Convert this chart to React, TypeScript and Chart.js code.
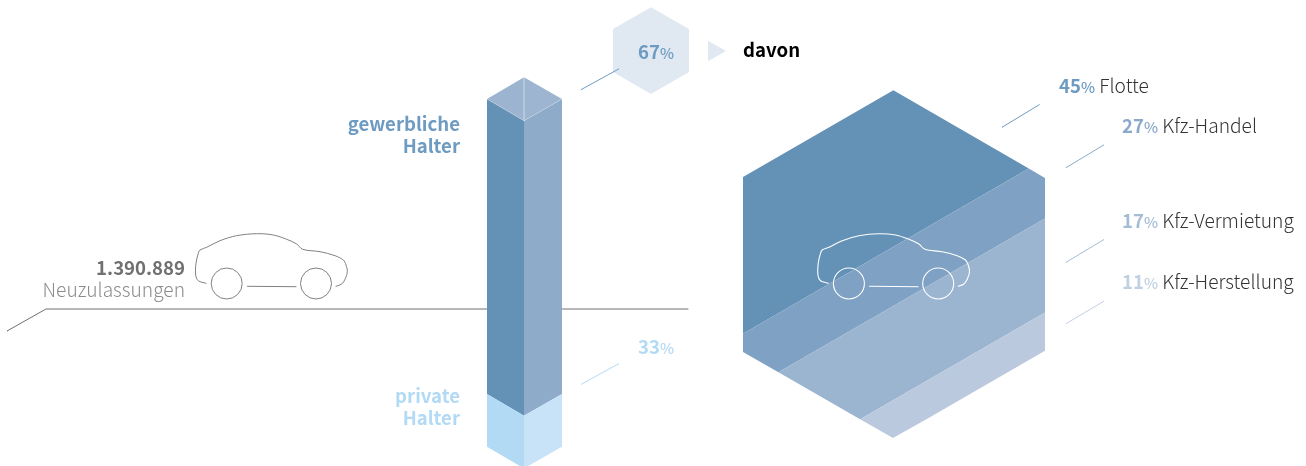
import React, { useEffect, useRef } from "react";
import { Chart, registerables } from "chart.js";

Chart.register(...registerables);

// ---- values ----
const totalRegistrations = "1.390.889";
const holderCategories = ["gewerbliche Halter", "private Halter"];
const holderShares = [67, 33];
const fleetCategories = ["Flotte", "Kfz-Handel", "Kfz-Vermietung", "Kfz-Herstellung"];
const fleetShares = [45, 27, 17, 11];
// the stripes of the big hexagon as drawn in the source (2nd and 3rd widths differ from the labels)
const stripeWidths = [45, 17, 27, 11];

// ---- layout ----
type P = { x: number; y: number };
const pt = (x: number, y: number): P => ({ x, y });
const W = 1306;
const H = 466;
const FONT = '"Noto Sans CJK SC", "Noto Sans", sans-serif';
const BOLD_SIZE = 18.6;
const LIGHT_SIZE = 19.2;

const stripeColors = ["#6491b6", "#7fa1c3", "#9bb4cf", "#bac9de"];
const fleetLabelColors = ["#6e9bc2", "#8aa9cb", "#a5bcd6", "#c1cfe3"];
const BLUE = "#6e9bc2";
const PALE = "#b2daf5";

const bigHex = [pt(893, 90), pt(1045, 178), pt(1045, 352), pt(893, 438), pt(743, 352), pt(743, 177)];
const smallHex = [pt(651, 7.3), pt(689, 29), pt(689, 72), pt(651, 94), pt(613, 72), pt(613, 29)];
const K = Math.tan(Math.PI / 6);
const T_MIN = 606;
const T_MAX = 954;

function clip(poly: P[], t: number, keepBelow: boolean): P[] {
  const f = (p: P) => (p.y + K * p.x - t) * (keepBelow ? -1 : 1);
  const out: P[] = [];
  poly.forEach((a, i) => {
    const b = poly[(i + 1) % poly.length];
    const fa = f(a);
    const fb = f(b);
    if (fa >= 0) out.push(a);
    if (fa >= 0 !== fb >= 0) {
      const r = fa / (fa - fb);
      out.push(pt(a.x + (b.x - a.x) * r, a.y + (b.y - a.y) * r));
    }
  });
  return out;
}

function stripePolygons(): P[][] {
  const total = stripeWidths.reduce((s, v) => s + v, 0);
  let acc = 0;
  return stripeWidths.map((v) => {
    const t0 = T_MIN + ((T_MAX - T_MIN) * acc) / total;
    acc += v;
    const t1 = T_MIN + ((T_MAX - T_MIN) * acc) / total;
    return clip(clip(bigHex, t0, false), t1, true);
  });
}

const colL = 487;
const colM = 524;
const colR = 562;
const rise = 21.7;
const colTop = 99;
const colSplit = 394;
const colEnd = 446.7;

const faces: { pts: P[]; color: string }[] = [
  { pts: [pt(colL, colTop), pt(colM, colTop + rise), pt(colM, colSplit + rise), pt(colL, colSplit)], color: "#6491b6" },
  { pts: [pt(colM, colTop + rise), pt(colR, colTop), pt(colR, colSplit), pt(colM, colSplit + rise)], color: "#8fabca" },
  { pts: [pt(colL, colSplit), pt(colM, colSplit + rise), pt(colM, colEnd + rise), pt(colL, colEnd)], color: "#b2daf5" },
  { pts: [pt(colM, colSplit + rise), pt(colR, colSplit), pt(colR, colEnd), pt(colM, colEnd + rise)], color: "#c8e3f8" },
  { pts: [pt(colL, colTop), pt(colM, colTop - rise), pt(colM, colTop + rise)], color: "#9cb4cf" },
  { pts: [pt(colM, colTop - rise), pt(colR, colTop), pt(colM, colTop + rise)], color: "#9db5d0" },
];
const topSeams = [
  [pt(colM, colTop - rise), pt(colM, colTop + rise)],
  [pt(colL, colTop), pt(colM, colTop + rise), pt(colR, colTop)],
];

const carBody = [
  pt(206, 283.3), pt(198.3, 280.7), pt(195.7, 275), pt(196, 263.3), pt(198.3, 253.3), pt(200, 250),
  pt(206.7, 247.3), pt(220, 240.7), pt(236.7, 235.7), pt(256.7, 233.7), pt(273.3, 235), pt(286.7, 239.3),
  pt(296.7, 244), pt(302.7, 249.3), pt(320, 251.7), pt(335, 255.7), pt(343.3, 260), pt(346, 265),
  pt(347.3, 271.7), pt(345, 279.3), pt(341.7, 284), pt(336, 286.3),
];
const carFloor = [pt(247.3, 286.3), pt(296, 286.7)];
const carWheels = [pt(226.7, 283.5), pt(316, 283.5)];

const ground = [pt(7, 331), pt(46, 309), pt(688, 309)];
const leaders = [
  { pts: [pt(581, 89.7), pt(618.7, 69)], color: "#6e9bc2" },
  { pts: [pt(581.3, 384.3), pt(618.7, 363.7)], color: PALE },
  { pts: [pt(1002, 127.3), pt(1039.3, 104.7)], color: "#6e9bc2" },
  { pts: [pt(1066, 167.7), pt(1103.7, 145)], color: "#8aa9cb" },
  { pts: [pt(1066, 262.3), pt(1103.7, 239.7)], color: "#a5bcd6" },
  { pts: [pt(1066, 323.7), pt(1103.7, 301.3)], color: "#c1cfe3" },
];
const arrow = [pt(708, 40.7), pt(726, 51), pt(708, 61.3)];

const closed = (p: P[]) => [...p, p[0]];
const base = { showLine: true, pointRadius: 0, pointHoverRadius: 0 };
const poly = (p: P[], color: string) => ({
  ...base, data: closed(p), fill: "shape", backgroundColor: color, borderWidth: 0, borderColor: "transparent",
});
const line = (p: P[], color: string, width = 1, tension = 0) => ({
  ...base, data: p, fill: false, borderColor: color, borderWidth: width, tension, borderCapStyle: "round",
});
const wheels = (p: P[], color: string, width: number) => ({
  data: p, showLine: false, pointStyle: "circle", pointRadius: 15.5, pointHoverRadius: 15.5,
  pointBackgroundColor: "transparent", pointBorderColor: color, pointBorderWidth: width,
});
const shift = (p: P[], dx: number) => p.map((q) => pt(q.x + dx, q.y));
const CAR_SHIFT = 622.2;

function buildDatasets() {
  const list: any[] = [
    line(ground, "#707070", 1),
    line(carBody, "#808080", 1, 0.35),
    line(carFloor, "#808080", 1),
    wheels(carWheels, "#808080", 1),
    ...faces.map((f) => poly(f.pts, f.color)),
    ...topSeams.map((s) => line(s, "rgba(255,255,255,0.25)", 0.8)),
    poly(smallHex, "#e0e8f2"),
    poly(arrow, "#e0e8f2"),
    ...stripePolygons().map((s, i) => poly(s, stripeColors[i])),
    line(shift(carBody, CAR_SHIFT), "#ffffff", 1.1, 0.35),
    line(shift(carFloor, CAR_SHIFT), "#ffffff", 1.1),
    wheels(shift(carWheels, CAR_SHIFT), "#ffffff", 1.1),
    ...leaders.map((l) => line(l.pts, l.color, 1)),
  ];
  return list.map((d, i) => ({ ...d, order: -i }));
}

type Run = { text: string; weight: number; size: number; color: string };
type Label = { x: number; y: number; align: "left" | "right"; runs: Run[] };
const strong = (text: string, color: string): Run => ({ text, weight: 700, size: BOLD_SIZE, color });
const light = (text: string, color: string): Run => ({ text, weight: 300, size: LIGHT_SIZE, color });
const pct = (v: number, color: string): Run[] => [
  strong(String(v), color),
  { text: "%", weight: 500, size: 15, color },
];
const [comm1, ...comm2] = holderCategories[0].split(" ");
const [priv1, ...priv2] = holderCategories[1].split(" ");
const fleetY = [92.7, 132.7, 227.7, 288.7];
const fleetX = [1059, 1122, 1122, 1122];

const labels: Label[] = [
  { x: 185, y: 275, align: "right", runs: [strong(totalRegistrations, "#707070")] },
  { x: 185, y: 297, align: "right", runs: [light("Neuzulassungen", "#8c8c8c")] },
  { x: 460, y: 131, align: "right", runs: [strong(comm1, BLUE)] },
  { x: 460, y: 152.7, align: "right", runs: [strong(comm2.join(" "), BLUE)] },
  { x: 460, y: 403.3, align: "right", runs: [strong(priv1, PALE)] },
  { x: 460, y: 425, align: "right", runs: [strong(priv2.join(" "), PALE)] },
  { x: 638, y: 59, align: "left", runs: pct(holderShares[0], BLUE) },
  { x: 638, y: 353.5, align: "left", runs: pct(holderShares[1], PALE) },
  { x: 743, y: 57, align: "left", runs: [strong("davon", "#000000")] },
  ...fleetCategories.map((c, i) => ({
    x: fleetX[i],
    y: fleetY[i],
    align: "left" as const,
    runs: [...pct(fleetShares[i], fleetLabelColors[i]), light(" " + c, "#333333")],
  })),
];

const textPlugin = {
  id: "infographicText",
  afterDatasetsDraw(chart: any) {
    const { ctx, scales } = chart;
    ctx.save();
    ctx.textBaseline = "alphabetic";
    ctx.textAlign = "left";
    for (const l of labels) {
      const widthOf = (r: Run) => {
        ctx.font = `${r.weight} ${r.size}px ${FONT}`;
        return ctx.measureText(r.text).width;
      };
      const total = l.runs.reduce((s, r) => s + widthOf(r), 0);
      let x = scales.x.getPixelForValue(l.x) - (l.align === "right" ? total : 0);
      const y = scales.y.getPixelForValue(l.y);
      for (const r of l.runs) {
        const w = widthOf(r);
        ctx.fillStyle = r.color;
        ctx.fillText(r.text, x, y);
        x += w;
      }
    }
    ctx.restore();
  },
};

export default function App() {
  const ref = useRef<HTMLCanvasElement>(null);
  useEffect(() => {
    document.body.style.margin = "0";
    const chart = new Chart(ref.current as HTMLCanvasElement, {
      type: "scatter",
      data: { datasets: buildDatasets() },
      plugins: [textPlugin],
      options: {
        animation: false,
        responsive: false,
        devicePixelRatio: 1,
        layout: { padding: 0, autoPadding: false },
        events: [],
        scales: {
          x: { type: "linear", min: 0, max: W, display: false },
          y: { type: "linear", min: 0, max: H, reverse: true, display: false },
        },
        plugins: { legend: { display: false }, tooltip: { enabled: false }, title: { display: false } },
      },
    } as any);
    return () => chart.destroy();
  }, []);
  return (
    <canvas
      ref={ref}
      width={W}
      height={H}
      style={{ display: "block", width: W, height: H, background: "#ffffff" }}
    />
  );
}
